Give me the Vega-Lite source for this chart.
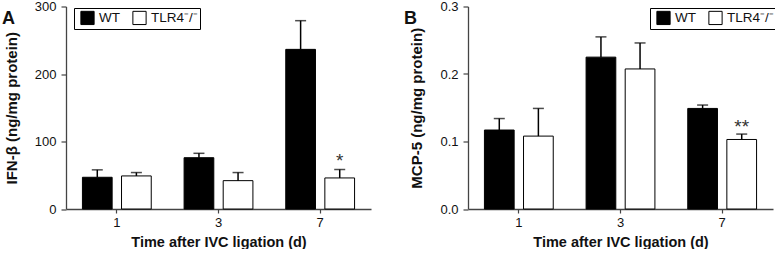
{
  "$schema": "https://vega.github.io/schema/vega-lite/v6.json",
  "padding": {"left": 2, "top": 0.5, "right": 0, "bottom": 0},
  "bounds": "flush",
  "spacing": 97,
  "background": "white",
  "config": {
    "view": {"stroke": null},
    "font": "Liberation Sans",
    "axis": {
      "domainColor": "#444", "domainWidth": 1.3, "tickColor": "#444", "tickWidth": 1.2,
      "labelFont": "Liberation Sans", "labelFontSize": 13, "labelColor": "#111",
      "titleFont": "Liberation Sans", "titleFontWeight": "bold", "titleColor": "#111",
      "grid": false
    },
    "legend": {
      "labelFont": "Liberation Sans", "labelFontSize": 14, "labelColor": "#111"
    },
    "title": {"font": "Liberation Sans", "fontSize": 18, "fontWeight": "bold", "color": "#111"}
  },
  "datasets": {
    "ifn": [
      {"day": "1", "group": "WT", "value": 47, "upper": 58, "sig": ""},
      {"day": "1", "group": "TLR4⁻/⁻", "value": 49, "upper": 54, "sig": ""},
      {"day": "3", "group": "WT", "value": 76, "upper": 82.5, "sig": ""},
      {"day": "3", "group": "TLR4⁻/⁻", "value": 42, "upper": 54, "sig": ""},
      {"day": "7", "group": "WT", "value": 236.5, "upper": 279, "sig": ""},
      {"day": "7", "group": "TLR4⁻/⁻", "value": 46, "upper": 58.5, "sig": "*"}
    ],
    "mcp": [
      {"day": "1", "group": "WT", "value": 0.117, "upper": 0.134, "sig": ""},
      {"day": "1", "group": "TLR4⁻/⁻", "value": 0.108, "upper": 0.149, "sig": ""},
      {"day": "3", "group": "WT", "value": 0.225, "upper": 0.255, "sig": ""},
      {"day": "3", "group": "TLR4⁻/⁻", "value": 0.2075, "upper": 0.246, "sig": ""},
      {"day": "7", "group": "WT", "value": 0.149, "upper": 0.154, "sig": ""},
      {"day": "7", "group": "TLR4⁻/⁻", "value": 0.103, "upper": 0.111, "sig": "**"}
    ]
  },
  "resolve": {"scale": {"y": "independent"}, "legend": {"color": "independent"}},
  "hconcat": [
    {
      "width": 305, "height": 202.5,
      "title": {"text": "A", "anchor": "start", "frame": "group", "dx": -64, "dy": 27, "offset": 0, "fontSize": 18, "fontWeight": "bold", "font": "Liberation Sans"},
      "data": {"name": "ifn"},
      "encoding": {
        "x": {"field": "day", "type": "ordinal", "scale": {"paddingInner": 0, "paddingOuter": 0},
              "axis": {"title": "Time after IVC ligation (d)", "titleFontSize": 14.5, "labelFontSize": 13, "labelAngle": 0, "tickSize": 4, "labelPadding": 3, "titlePadding": 6}},
        "xOffset": {"field": "group", "type": "nominal", "sort": ["WT", "TLR4⁻/⁻"], "scale": {"paddingInner": 0.24, "paddingOuter": 0.42}}
      },
      "layer": [
        {
          "mark": {"type": "bar", "stroke": "black", "strokeWidth": 1},
          "encoding": {
            "y": {"field": "value", "type": "quantitative", "scale": {"domain": [0, 300]},
                  "axis": {"title": "IFN-β (ng/mg protein)", "titleFontSize": 15, "labelFontSize": 13, "values": [0, 100, 200, 300], "tickSize": 5, "labelPadding": 5, "titlePadding": 15}},
            "color": {"field": "group", "type": "nominal", "sort": ["WT", "TLR4⁻/⁻"],
                      "scale": {"domain": ["WT", "TLR4⁻/⁻"], "range": ["black", "white"]},
                      "legend": {"title": null, "orient": "none", "legendX": 8, "legendY": 1.5, "direction": "horizontal",
                                 "strokeColor": "black", "padding": 2, "symbolOffset": 4, "symbolType": "square", "symbolSize": 175,
                                 "labelFontSize": 13.5, "labelFont": "Liberation Sans",
                                 "symbolStrokeColor": "black", "symbolStrokeWidth": 1, "symbolOpacity": 1, "columnPadding": 8, "labelOffset": 4}}
          }
        },
        {
          "mark": {"type": "rule", "color": "black", "strokeWidth": 1.5},
          "encoding": {"y": {"field": "value", "type": "quantitative"}, "y2": {"field": "upper"}}
        },
        {
          "mark": {"type": "tick", "color": "black", "size": 11, "thickness": 1.5, "orient": "horizontal"},
          "encoding": {"y": {"field": "upper", "type": "quantitative"}}
        },
        {
          "mark": {"type": "text", "fontSize": 19, "color": "#333", "baseline": "alphabetic", "dy": -3},
          "encoding": {"y": {"field": "upper", "type": "quantitative"}, "text": {"field": "sig"}}
        }
      ]
    },
    {
      "width": 305, "height": 202.5,
      "title": {"text": "B", "anchor": "start", "frame": "group", "dx": -64, "dy": 27, "offset": 0, "fontSize": 18, "fontWeight": "bold", "font": "Liberation Sans"},
      "data": {"name": "mcp"},
      "encoding": {
        "x": {"field": "day", "type": "ordinal", "scale": {"paddingInner": 0, "paddingOuter": 0},
              "axis": {"title": "Time after IVC ligation (d)", "titleFontSize": 14.5, "labelFontSize": 13, "labelAngle": 0, "tickSize": 4, "labelPadding": 3, "titlePadding": 6}},
        "xOffset": {"field": "group", "type": "nominal", "sort": ["WT", "TLR4⁻/⁻"], "scale": {"paddingInner": 0.24, "paddingOuter": 0.42}}
      },
      "layer": [
        {
          "mark": {"type": "bar", "stroke": "black", "strokeWidth": 1},
          "encoding": {
            "y": {"field": "value", "type": "quantitative", "scale": {"domain": [0, 0.3]},
                  "axis": {"title": "MCP-5 (ng/mg protein)", "titleFontSize": 15, "labelFontSize": 13, "values": [0, 0.1, 0.2, 0.3], "format": ".1f", "tickSize": 5, "labelPadding": 5, "titlePadding": 15}},
            "color": {"field": "group", "type": "nominal", "sort": ["WT", "TLR4⁻/⁻"],
                      "scale": {"domain": ["WT", "TLR4⁻/⁻"], "range": ["black", "white"]},
                      "legend": {"title": null, "orient": "none", "legendX": 182, "legendY": 1.5, "direction": "horizontal",
                                 "strokeColor": "black", "padding": 2, "symbolOffset": 4, "symbolType": "square", "symbolSize": 175,
                                 "labelFontSize": 13.5, "labelFont": "Liberation Sans",
                                 "symbolStrokeColor": "black", "symbolStrokeWidth": 1, "symbolOpacity": 1, "columnPadding": 8, "labelOffset": 4}}
          }
        },
        {
          "mark": {"type": "rule", "color": "black", "strokeWidth": 1.5},
          "encoding": {"y": {"field": "value", "type": "quantitative"}, "y2": {"field": "upper"}}
        },
        {
          "mark": {"type": "tick", "color": "black", "size": 11, "thickness": 1.5, "orient": "horizontal"},
          "encoding": {"y": {"field": "upper", "type": "quantitative"}}
        },
        {
          "mark": {"type": "text", "fontSize": 19, "color": "#333", "baseline": "alphabetic", "dy": -1},
          "encoding": {"y": {"field": "upper", "type": "quantitative"}, "text": {"field": "sig"}}
        }
      ]
    }
  ]
}
